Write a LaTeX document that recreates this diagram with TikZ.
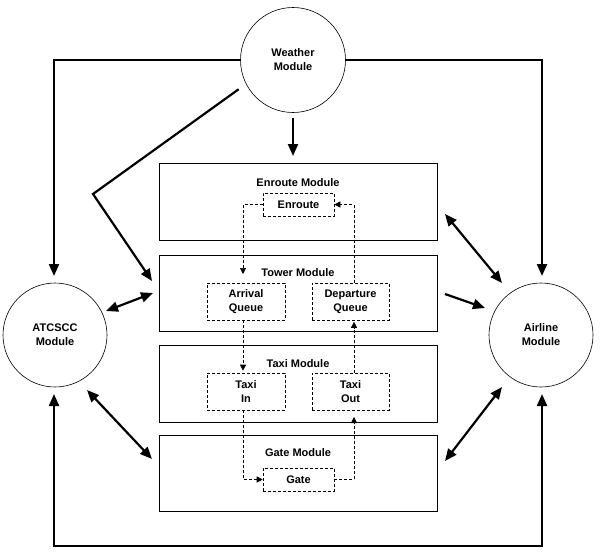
\documentclass[tikz,border=0pt]{standalone}
\usepackage{fontspec}
\setmainfont{Liberation Sans}
\usetikzlibrary{arrows.meta,calc}
\begin{document}
\begin{tikzpicture}[x=1pt,y=-1pt,
  font=\fontsize{11}{14}\selectfont\bfseries,
  module/.style={draw, circle, line width=0.6pt, minimum size=105pt, align=center, inner sep=0pt},
  block/.style={draw, line width=0.9pt, minimum width=278pt, inner sep=0pt},
  sub/.style={draw, dash pattern=on 3pt off 2pt, line width=0.6pt, inner sep=0pt, align=center},
  link/.style={line width=2.2pt, -{Triangle[length=12pt,width=10pt]}},
  bilink/.style={line width=2.2pt, {Triangle[length=12pt,width=10pt]}-{Triangle[length=12pt,width=10pt]}},
  flow/.style={line width=0.6pt, dash pattern=on 3pt off 2pt, -{Triangle[length=6pt,width=6pt]}},
]
\useasboundingbox (0,0) rectangle (601,554);
% modules
\node[module] (weather) at (293,60) {Weather\\Module};
\node[module, minimum size=104pt] (atcscc) at (55,335) {ATCSCC\\Module};
\node[module, minimum size=104pt] (airline) at (541,335) {Airline\\Module};
% blocks
\node[block, minimum height=77pt] (enroute) at (298,201.5) {};
\node[block, minimum height=76pt] (tower) at (298,293) {};
\node[block, minimum height=77pt] (taxi) at (298,383.5) {};
\node[block, minimum height=76pt] (gate) at (298,473) {};
\node (enrouteL) at (298,183) {Enroute Module};
\node (towerL) at (298,273) {Tower Module};
\node (taxiL) at (298,364) {Taxi Module};
\node (gateL) at (298,453) {Gate Module};
% inner boxes
\node[sub, minimum width=71pt, minimum height=23pt] (enq) at (298.5,204.5) {Enroute};
\node[sub, minimum width=78pt, minimum height=37pt] (arr) at (246,301.5) {Arrival\\Queue};
\node[sub, minimum width=77pt, minimum height=37pt] (dep) at (350.5,301.5) {Departure\\Queue};
\node[sub, minimum width=78pt, minimum height=37pt] (tin) at (246,391.5) {Taxi\\In};
\node[sub, minimum width=77pt, minimum height=37pt] (tout) at (350.5,391.5) {Taxi\\Out};
\node[sub, minimum width=71pt, minimum height=23pt] (gq) at (298.5,479.5) {Gate};
% dashed flows
\coordinate (L1) at (243,274);
\coordinate (R1) at (354,417);
\draw[flow] (enq.west) -| (L1);
\draw[flow, shorten >=2pt] (arr.south -| L1) -- (tin.north -| L1);
\draw[flow] (tin.south -| L1) |- (gq.west);
\draw[flow] (gq.east) -| (R1);
\draw[flow, shorten >=1.5pt] (tout.north -| R1) -- (dep.south -| R1);
\draw[flow] (dep.north -| R1) |- (enq.east);
% thick connectors
\coordinate (atcTop) at (54,276);
\coordinate (airTop) at (542,276);
\coordinate (atcBot) at (54,394);
\coordinate (airBot) at (542,394);
\coordinate (bot) at (300,546);
\coordinate (wTip) at (293,156);
\coordinate (bend) at (93,194);
\coordinate (towTip) at (152,281);
\draw[link] (weather.west) -| (atcTop);
\draw[link] (weather.east) -| (airTop);
\draw[link, shorten <=5pt] (weather.south) -- (wTip);
\draw[link, shorten <=9pt] (weather.207) -- (bend) -- (towTip);
\draw[bilink] (atcBot) |- (bot) -| (airBot);
\coordinate (a1) at (106,311); \coordinate (a2) at (153,293);
\coordinate (b1) at (87,390);  \coordinate (b2) at (152,459);
\coordinate (c1) at (445,214); \coordinate (c2) at (502,283);
\coordinate (d1) at (445,294); \coordinate (d2) at (485,308);
\coordinate (e1) at (445,461); \coordinate (e2) at (502,387);
\draw[bilink] (a1) -- (a2);
\draw[bilink] (b1) -- (b2);
\draw[bilink] (c1) -- (c2);
\draw[link] (d1) -- (d2);
\draw[bilink] (e1) -- (e2);
\end{tikzpicture}
\end{document}
